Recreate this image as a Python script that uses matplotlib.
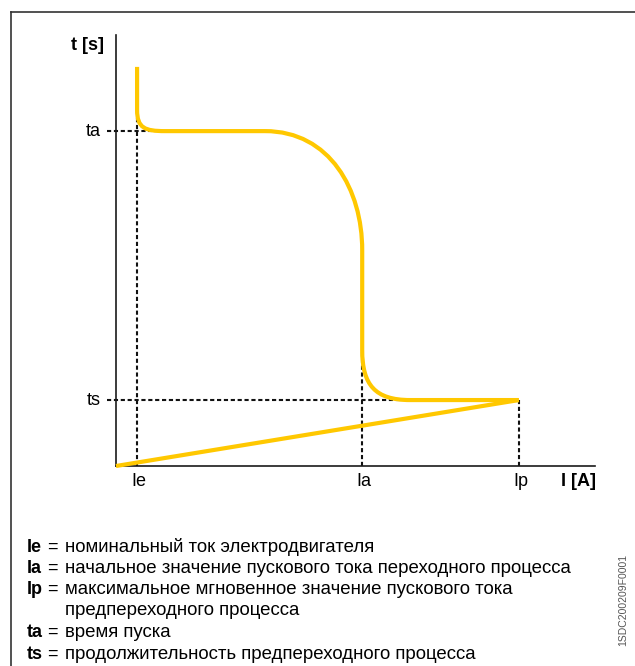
import numpy as np
import matplotlib.pyplot as plt
from matplotlib.path import Path
from matplotlib.patches import PathPatch
from matplotlib.lines import Line2D

plt.rcParams['font.family'] = ['Liberation Sans', 'DejaVu Sans']

# characteristic points (axis units, 0..100 on both axes)
Ie, Ia, Ip = 4.4, 51.4, 84.1
ta, ts = 77.7, 15.3
t_top = 92.6

# start-up curve: key vertices and bezier control points
curve_x = [Ie, Ie, Ie, 6.05, 10.2, 31.1, 44.7, Ia, Ia, Ia, Ia, 54.1, 61.4, Ip]
curve_y = [t_top, 82.6, 78.4, ta, ta, ta, ta, 64.0, 50.1, 26.9, 18.8, ts, ts, ts]
curve_codes = [Path.MOVETO, Path.LINETO, Path.CURVE4, Path.CURVE4, Path.CURVE4,
               Path.LINETO, Path.CURVE4, Path.CURVE4, Path.CURVE4,
               Path.LINETO, Path.CURVE4, Path.CURVE4, Path.CURVE4, Path.LINETO]

# straight line from origin to the peak point
ramp_x = [0, Ip]
ramp_y = [0, ts]

x_ticks = [Ie, Ia, Ip]
x_labels = ['Ie', 'Ia', 'Ip']
y_ticks = [ta, ts]
y_labels = ['ta', 'ts']

legend_keys = ['Ie', 'Ia', 'Ip', '', 'ta', 'ts']
legend_texts = ['номинальный ток электродвигателя',
                'начальное значение пускового тока переходного процесса',
                'максимальное мгновенное значение пускового тока',
                'предпереходного процесса',
                'время пуска',
                'продолжительность предпереходного процесса']
legend_base = [552, 573, 594, 615, 637, 659]

W, H = 635, 666
fig = plt.figure(figsize=(W / 100, H / 100), dpi=100)
ax = fig.add_axes([116 / W, (H - 466) / H, 479 / W, 431 / H])
ax.set_xlim(0, 100)
ax.set_ylim(0, 100)
for s in ['top', 'right']:
    ax.spines[s].set_visible(False)
for s in ['left', 'bottom']:
    ax.spines[s].set_linewidth(1.2)
    ax.spines[s].set_color('#1a1a1a')
ax.set_xticks([])
ax.set_yticks([])

yellow = '#FFC800'
dash = dict(color='#111111', lw=1.5, ls=(0, (2.0, 1.3)), clip_on=False)

# dashed guides
ax.plot([-1.8, 7.5], [ta, ta], **dash)
ax.plot([Ie, Ie], [0, 81], **dash)
ax.plot([-1.8, Ip], [ts, ts], **dash)
ax.plot([Ia, Ia], [0, 26.5], **dash)
ax.plot([Ip, Ip], [0, ts], **dash)

path = Path(np.column_stack([curve_x, curve_y]), curve_codes)
ax.add_patch(PathPatch(path, facecolor='none', edgecolor=yellow, lw=3, capstyle='butt', zorder=3))
ax.plot(ramp_x, ramp_y, color=yellow, lw=3, solid_capstyle='butt', zorder=3, clip_on=False)

fs = 13
for x, lab in zip(x_ticks, x_labels):
    ax.text(x + 0.4, -1.6, lab, ha='center', va='top', fontsize=fs)
for y, lab in zip(y_ticks, y_labels):
    ax.text(-3.2, y, lab, ha='right', va='center', fontsize=fs)
ax.text(96.5, -1.6, 'I [A]', ha='center', va='top', fontsize=fs, fontweight='bold')
ax.text(-6.0, 97.6, 't [s]', ha='center', va='center', fontsize=fs, fontweight='bold')

# legend below the chart
for k, t, yb in zip(legend_keys, legend_texts, legend_base):
    yf = 1 - yb / H
    if k:
        fig.text(27 / W, yf, k, fontsize=fs, fontweight='bold', va='baseline')
        fig.text(47 / W, yf, '=', fontsize=fs, va='baseline')
    fig.text(65 / W, yf, t, fontsize=13.4, va='baseline')

fig.text(623 / W, 1 - 600 / H, '1SDC200209F0001', rotation=90, fontsize=7.5,
         color='#555555', ha='center', va='center')

# frame lines (top and left)
fig.add_artist(Line2D([10.5 / W, 10.5 / W], [0, 1 - 11.5 / H], color='#333333', lw=1.2))
fig.add_artist(Line2D([10.5 / W, 1], [1 - 11.5 / H, 1 - 11.5 / H], color='#333333', lw=1.2))

fig.savefig('out.png', dpi=100)
